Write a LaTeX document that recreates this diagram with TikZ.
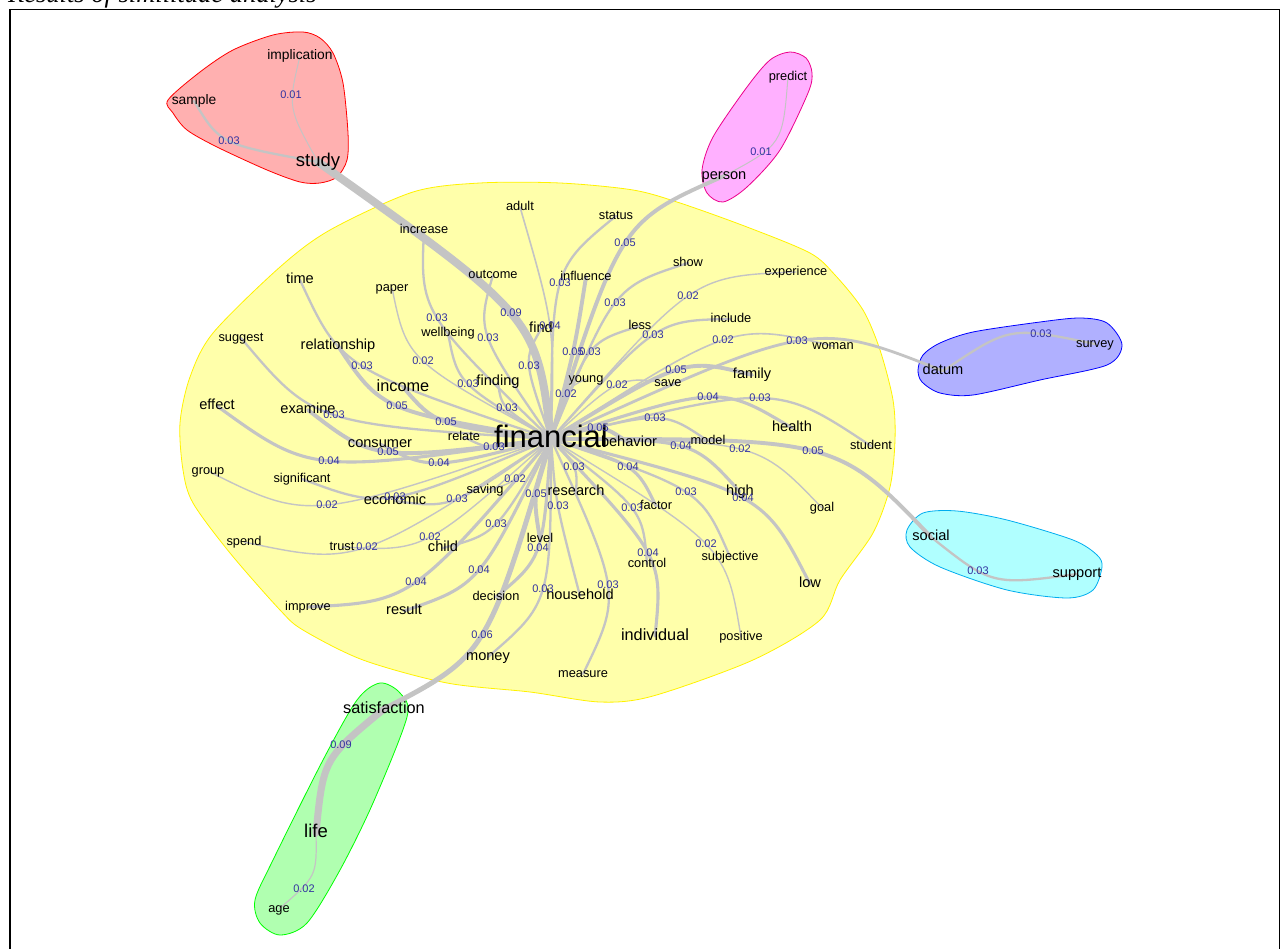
\documentclass[tikz,border=0pt]{standalone}
\usepackage{fontspec}
\setmainfont{Liberation Serif}
\newfontfamily\arial{Liberation Sans}
\usetikzlibrary{calc}
\pgfdeclarelayer{halo}
\pgfdeclarelayer{links}
\pgfsetlayers{halo,links,main}
\definecolor{edgegray}{RGB}{196,196,196}
\definecolor{labelblue}{RGB}{50,50,160}
\definecolor{yelfill}{RGB}{255,255,170}
\definecolor{redfill}{RGB}{255,176,176}
\definecolor{pinkfill}{RGB}{255,176,255}
\definecolor{bluefill}{RGB}{176,176,255}
\definecolor{cyanfill}{RGB}{176,255,255}
\definecolor{greenfill}{RGB}{176,255,176}
\tikzset{
  w/.style={font=\arial\fontsize{#1}{#1}\selectfont, text height={0.72*#1pt}, text depth={0.2*#1pt}, inner sep=0pt, text=black},
  ws/.style={w=12.8}, wsm/.style={w=13.8}, wm/.style={w=14.6}, wl/.style={w=16.3}, wxl/.style={w=18.5}, hub/.style={w=31},
  wt/.style={font=\arial\fontsize{11}{11}\selectfont, text=labelblue, inner sep=0pt, text height=7.9pt, text depth=0pt},
  lnkline/.style={draw=edgegray, line cap=round},
  halo/.style={line width=0.8pt},
  frame/.style={draw=black, line width=1.8pt}
}
\newcommand\lnk[4]{\draw[lnkline, line width=#4pt] (#1.center) .. controls ($1.3333*(#3)-0.16667*(#1.center)-0.16667*(#2.center)$) .. (#2.center);}
\begin{document}
\begin{tikzpicture}[x=1pt,y=-1pt]
\useasboundingbox (0,0) rectangle (1281,949);
% caption and frame
\node[anchor=base west, inner sep=0pt, font=\fontsize{26.5}{27}\itshape\selectfont] (caption) at (8,3) {Results of similitude analysis};
\coordinate (fTL) at (10,9.5);
\coordinate (fTR) at (1279.5,9.5);
\coordinate (fBL) at (10,960);
\coordinate (fBR) at (1279.5,960);
\draw[frame] (fBL) -- (fTL) -- (fTR) -- (fBR);
% halos
\begin{pgfonlayer}{halo}
\draw[halo, draw=yellow, fill=yelfill] plot[smooth cycle] coordinates {(180,423) (190,377) (213,333) (280,267) (330,230) (413,192) (480,183) (560,183) (633,190) (680,203) (747,227) (810,253) (835,275) (863,310) (880,350) (893,400) (895,440) (890,487) (873,533) (840,580) (820,620) (753,660) (653,696) (600,702) (530,692) (447,683) (363,660) (303,630) (280,610) (230,553) (193,503) (183,470)};
\draw[halo, draw=red, fill=redfill] plot[smooth cycle] coordinates {(168,100) (200,72) (233,50) (273,35) (303,32) (320,38) (333,53) (343,83) (348,133) (347,160) (337,177) (320,183) (300,182) (267,170) (217,147) (187,130) (173,113)};
\draw[halo, draw=magenta, fill=pinkfill] plot[smooth cycle] coordinates {(790,52) (806,58) (812,73) (808,93) (780,150) (747,187) (723,202) (707,193) (702,170) (713,137) (747,87) (770,60)};
\draw[halo, draw=blue, fill=bluefill] plot[smooth cycle] coordinates {(918,370) (923,355) (940,343) (973,332) (1040,322) (1080,318) (1107,323) (1122,345) (1107,365) (1040,380) (973,395) (940,393) (922,382)};
\draw[halo, draw=cyan, fill=cyanfill] plot[smooth cycle] coordinates {(907,530) (923,513) (957,511) (1007,520) (1073,540) (1097,555) (1102,567) (1093,590) (1067,598) (1007,590) (940,567) (910,547)};
\draw[halo, draw=green, fill=greenfill] plot[smooth cycle] coordinates {(380,683) (400,693) (407,717) (373,803) (340,870) (307,923) (280,935) (260,923) (255,900) (273,860) (323,760) (357,700)};
\end{pgfonlayer}
% hub
\node[hub] (financial) at (551,439) {financial};
% yellow words
\node[ws] (increase) at (424,230) {increase};
\node[wm] (time) at (300,280) {time};
\node[ws] (paper) at (392,288) {paper};
\node[ws] (outcome) at (493,275) {outcome};
\node[ws] (suggest) at (241,338) {suggest};
\node[wm] (relationship) at (338,346) {relationship};
\node[ws] (wellbeing) at (448,333) {wellbeing};
\node[wl] (income) at (403,387) {income};
\node[wm] (finding) at (498,382) {finding};
\node[wm] (effect) at (217,406) {effect};
\node[wm] (examine) at (308,410) {examine};
\node[ws] (relate) at (464,437) {relate};
\node[ws] (adult) at (520,207) {adult};
\node[ws] (status) at (616,216) {status};
\node[ws] (show) at (688,263) {show};
\node[ws] (experience) at (796,272) {experience};
\node[ws] (influence) at (586,277) {influence};
\node[wm] (find) at (541,329) {find};
\node[ws] (less) at (640,326) {less};
\node[ws] (include) at (731,319) {include};
\node[ws] (woman) at (833,346) {woman};
\node[ws] (young) at (586,379) {young};
\node[ws] (save) at (668,383) {save};
\node[wm] (family) at (752,375) {family};
\node[wm] (health) at (792,428) {health};
\node[wm] (consumer) at (380,444) {consumer};
\node[ws] (group) at (208,471) {group};
\node[ws] (significant) at (302,479) {significant};
\node[ws] (saving) at (485,490) {saving};
\node[wm] (economic) at (395,501) {economic};
\node[ws] (spend) at (244,542) {spend};
\node[ws] (trust) at (342,547) {trust};
\node[wm] (child) at (443,548) {child};
\node[ws] (improve) at (308,607) {improve};
\node[wm] (result) at (404,611) {result};
\node[ws] (decision) at (496,597) {decision};
\node[wm] (money) at (488,657) {money};
\node[wm] (behavior) at (629,443) {behavior};
\node[ws] (model) at (708,441) {model};
\node[ws] (student) at (871,446) {student};
\node[wm] (research) at (576,492) {research};
\node[wm] (high) at (740,492) {high};
\node[ws] (factor) at (656,506) {factor};
\node[ws] (goal) at (822,508) {goal};
\node[ws] (level) at (540,539) {level};
\node[ws] (subjective) at (730,557) {subjective};
\node[ws] (control) at (647,564) {control};
\node[wm] (low) at (810,584) {low};
\node[wm] (household) at (580,596) {household};
\node[wl] (individual) at (655,636) {individual};
\node[ws] (positive) at (741,637) {positive};
\node[ws] (measure) at (583,674) {measure};
% other clusters
\node[wsm] (implication) at (300,56) {implication};
\node[wsm] (sample) at (194,101) {sample};
\node[wxl] (study) at (318,162) {study};
\node[ws] (predict) at (788,77) {predict};
\node[wm] (person) at (724,176) {person};
\node[wm] (datum) at (943,371) {datum};
\node[ws] (survey) at (1095,344) {survey};
\node[wm] (social) at (931,537) {social};
\node[wm] (support) at (1077,574) {support};
\node[wl] (satisfaction) at (384,709) {satisfaction};
\node[wxl] (life) at (316,833) {life};
\node[ws] (age) at (279,909) {age};
% weight labels
\node[wt] (lperson) at (625,243) {0.05};
\node[wt] (lstatus) at (560,283) {0.03};
\node[wt] (lstudy) at (511,313) {0.09};
\node[wt] (lshow) at (615,303) {0.03};
\node[wt] (lexperience) at (688,296) {0.02};
\node[wt] (ladult) at (550,326) {0.04};
\node[wt] (linclude) at (653,335) {0.03};
\node[wt] (lwoman) at (723,340) {0.02};
\node[wt] (ldatum) at (797,341) {0.03};
\node[wt] (linfluence) at (573,352) {0.05};
\node[wt] (lless) at (590,352) {0.03};
\node[wt] (lfind) at (529,366) {0.03};
\node[wt] (lsave) at (617,385) {0.02};
\node[wt] (lfamily) at (676,370) {0.05};
\node[wt] (lyoung) at (566,394) {0.02};
\node[wt] (lfinding) at (507,408) {0.03};
\node[wt] (lhealth) at (708,397) {0.04};
\node[wt] (lstudent) at (760,398) {0.03};
\node[wt] (lmodel) at (655,418) {0.03};
\node[wt] (lbehavior) at (598,428) {0.05};
\node[wt] (lincrease) at (437,318) {0.03};
\node[wt] (loutcome) at (488,338) {0.03};
\node[wt] (lpaper) at (423,361) {0.02};
\node[wt] (ltime) at (362,366) {0.03};
\node[wt] (lrelationship) at (397,406) {0.05};
\node[wt] (lwellbeing) at (468,384) {0.03};
\node[wt] (lsuggest) at (334,415) {0.03};
\node[wt] (lincome) at (446,422) {0.05};
\node[wt] (lexamine) at (388,452) {0.05};
\node[wt] (leffect) at (329,461) {0.04};
\node[wt] (lconsumer) at (439,463) {0.04};
\node[wt] (lrelate) at (494,447) {0.03};
\node[wt] (lsaving) at (515,479) {0.02};
\node[wt] (lsignificant) at (395,497) {0.03};
\node[wt] (lgroup) at (327,505) {0.02};
\node[wt] (leconomic) at (457,499) {0.03};
\node[wt] (lchild) at (496,524) {0.03};
\node[wt] (lspend) at (367,547) {0.02};
\node[wt] (ltrust) at (430,537) {0.02};
\node[wt] (lresult) at (479,570) {0.04};
\node[wt] (limprove) at (416,582) {0.04};
\node[wt] (lsatisfaction) at (482,635) {0.06};
\node[wt] (lhigh) at (681,446) {0.04};
\node[wt] (lgoal) at (740,449) {0.02};
\node[wt] (lsocial) at (813,451) {0.05};
\node[wt] (lresearch) at (574,467) {0.03};
\node[wt] (lfactor) at (628,467) {0.04};
\node[wt] (llevel) at (536,494) {0.05};
\node[wt] (lhousehold) at (558,506) {0.03};
\node[wt] (lsubjective) at (686,492) {0.03};
\node[wt] (llow) at (743,498) {0.04};
\node[wt] (lcontrol) at (632,508) {0.03};
\node[wt] (ldecision) at (538,548) {0.04};
\node[wt] (lpositive) at (706,544) {0.02};
\node[wt] (lindividual) at (648,553) {0.04};
\node[wt] (lmoney) at (543,589) {0.03};
\node[wt] (lmeasure) at (608,585) {0.03};
\node[wt] (lsample) at (229,141) {0.03};
\node[wt] (limplication) at (291,95) {0.01};
\node[wt] (lpredict) at (761,152) {0.01};
\node[wt] (lsurvey) at (1041,334) {0.03};
\node[wt] (lsupport) at (978,571) {0.03};
\node[wt] (llife) at (341,745) {0.09};
\node[wt] (lage) at (304,889) {0.02};
% links
\begin{pgfonlayer}{links}
\lnk{financial}{study}{lstudy.center}{8}
\lnk{financial}{person}{lperson.center}{3.9}
\lnk{financial}{status}{lstatus.center}{2.3}
\lnk{financial}{show}{lshow.center}{2.3}
\lnk{financial}{experience}{lexperience.center}{1.4}
\lnk{financial}{adult}{ladult.center}{1.6}
\lnk{financial}{include}{linclude.center}{2.3}
\lnk{financial}{woman}{lwoman.center}{1.6}
\lnk{financial}{datum}{ldatum.center}{2.8}
\lnk{financial}{influence}{linfluence.center}{3.9}
\lnk{financial}{less}{lless.center}{2.3}
\lnk{financial}{find}{lfind.center}{2.3}
\lnk{financial}{save}{lsave.center}{1.4}
\lnk{financial}{family}{lfamily.center}{3.9}
\lnk{financial}{young}{lyoung.center}{1.4}
\lnk{financial}{finding}{lfinding.center}{2.3}
\lnk{financial}{health}{lhealth.center}{3.1}
\lnk{financial}{student}{lstudent.center}{2.3}
\lnk{financial}{model}{lmodel.center}{2.3}
\lnk{financial}{behavior}{lbehavior.center}{3.9}
\lnk{financial}{increase}{lincrease.center}{2.3}
\lnk{financial}{outcome}{loutcome.center}{2.3}
\lnk{financial}{paper}{lpaper.center}{1.4}
\lnk{financial}{time}{ltime.center}{2.3}
\lnk{financial}{relationship}{lrelationship.center}{3.9}
\lnk{financial}{wellbeing}{lwellbeing.center}{2.3}
\lnk{financial}{suggest}{lsuggest.center}{2.3}
\lnk{financial}{income}{lincome.center}{3.9}
\lnk{financial}{examine}{lexamine.center}{3.9}
\lnk{financial}{effect}{leffect.center}{3.1}
\lnk{financial}{consumer}{lconsumer.center}{3.1}
\lnk{financial}{relate}{lrelate.center}{2.3}
\lnk{financial}{saving}{lsaving.center}{1.4}
\lnk{financial}{significant}{lsignificant.center}{2.3}
\lnk{financial}{group}{lgroup.center}{1.4}
\lnk{financial}{economic}{leconomic.center}{2.3}
\lnk{financial}{child}{lchild.center}{2.3}
\lnk{financial}{spend}{lspend.center}{1.4}
\lnk{financial}{trust}{ltrust.center}{1.4}
\lnk{financial}{result}{lresult.center}{3.1}
\lnk{financial}{improve}{limprove.center}{3.1}
\lnk{financial}{satisfaction}{lsatisfaction.center}{5}
\lnk{financial}{high}{lhigh.center}{3.1}
\lnk{financial}{goal}{lgoal.center}{1.4}
\lnk{financial}{social}{lsocial.center}{3.9}
\lnk{financial}{research}{lresearch.center}{2.3}
\lnk{financial}{factor}{lfactor.center}{3.1}
\lnk{financial}{level}{llevel.center}{3.9}
\lnk{financial}{household}{lhousehold.center}{2.3}
\lnk{financial}{subjective}{lsubjective.center}{2.3}
\lnk{financial}{low}{llow.center}{3.1}
\lnk{financial}{control}{lcontrol.center}{2.3}
\lnk{financial}{decision}{ldecision.center}{3.1}
\lnk{financial}{positive}{lpositive.center}{1.4}
\lnk{financial}{individual}{lindividual.center}{3.1}
\lnk{financial}{money}{lmoney.center}{2.3}
\lnk{financial}{measure}{lmeasure.center}{2.3}
\lnk{study}{sample}{lsample.center}{2.3}
\lnk{study}{implication}{293,108}{1}
\lnk{person}{predict}{776,140}{1}
\lnk{datum}{survey}{1012,334}{2.3}
\lnk{social}{support}{995,578}{2.3}
\lnk{satisfaction}{life}{330,762}{7}
\lnk{life}{age}{312,875}{1.2}
\end{pgfonlayer}
\end{tikzpicture}
\end{document}
